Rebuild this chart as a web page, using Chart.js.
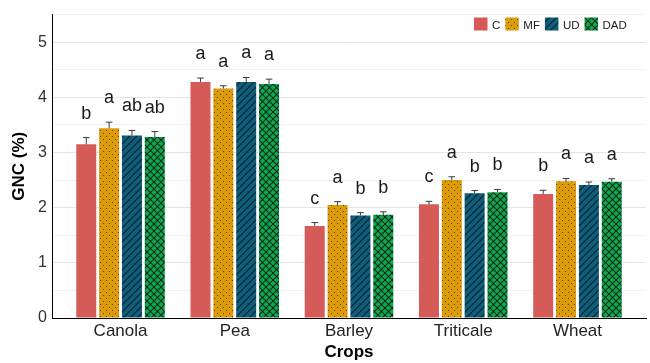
<!DOCTYPE html>
<html>
<head>
<meta charset="utf-8">
<script src="https://cdn.jsdelivr.net/npm/chart.js@4.4.0/dist/chart.umd.min.js"></script>
<style>
  html, body { margin: 0; padding: 0; background: #fff; }
  #wrap { width: 650px; height: 363px; }
</style>
</head>
<body>
<div id="wrap"><canvas id="gnc" width="650" height="363"></canvas></div>
<script>
/* ============================================================
   DATA
============================================================ */
const crops = ["Canola", "Pea", "Barley", "Triticale", "Wheat"];
const treatments = ["C", "MF", "UD", "DAD"];

const gncC   = [3.15, 4.28, 1.67, 2.06, 2.25];
const gncMF  = [3.44, 4.16, 2.05, 2.50, 2.48];
const gncUD  = [3.31, 4.28, 1.86, 2.26, 2.41];
const gncDAD = [3.28, 4.24, 1.87, 2.28, 2.47];

const seC   = [0.12, 0.07, 0.06, 0.055, 0.065];
const seMF  = [0.11, 0.05, 0.06, 0.06, 0.05];
const seUD  = [0.09, 0.08, 0.05, 0.05, 0.055];
const seDAD = [0.10, 0.09, 0.055, 0.05, 0.055];

const lettersC   = ["b", "a", "c", "c", "b"];
const lettersMF  = ["a", "a", "a", "a", "a"];
const lettersUD  = ["ab", "a", "b", "b", "a"];
const lettersDAD = ["ab", "a", "b", "b", "a"];

const yMin = 0, yMax = 5.5, yStep = 0.5;

/* ============================================================
   Patterns
============================================================ */
function makePattern(base, kind) {
    const s = kind === "dots" ? 6 : 7;
    const c = document.createElement("canvas");
    c.width = s; c.height = s;
    const g = c.getContext("2d");
    g.fillStyle = base;
    g.fillRect(0, 0, s, s);
    g.strokeStyle = "rgba(8,18,22,0.8)";
    g.fillStyle = "rgba(40,25,0,0.7)";
    g.lineWidth = 1.1;
    if (kind === "dots") {
        g.fillRect(1, 1, 1, 1);
        g.fillRect(4, 4, 1, 1);
    }
    if (kind === "slash" || kind === "cross") {
        g.beginPath();
        g.moveTo(0, s); g.lineTo(s, 0);
        g.moveTo(-1, 1); g.lineTo(1, -1);
        g.moveTo(s - 1, s + 1); g.lineTo(s + 1, s - 1);
        g.stroke();
    }
    if (kind === "cross") {
        g.beginPath();
        g.moveTo(0, 0); g.lineTo(s, s);
        g.moveTo(s - 1, -1); g.lineTo(s + 1, 1);
        g.moveTo(-1, s - 1); g.lineTo(1, s + 1);
        g.stroke();
    }
    return g.createPattern(c, "repeat");
}

const fills = [
    "#D55B59",
    makePattern("#DB9B0B", "dots"),
    makePattern("#0F5E7C", "slash"),
    makePattern("#10A84B", "cross")
];

const values = [gncC, gncMF, gncUD, gncDAD];
const errors = [seC, seMF, seUD, seDAD];
const letters = [lettersC, lettersMF, lettersUD, lettersDAD];

/* ============================================================
   Plugin: error bars, letters, legend
============================================================ */
const extras = {
    id: "extras",
    afterDatasetsDraw(chart) {
        const ctx = chart.ctx;
        const y = chart.scales.y;
        ctx.save();
        chart.data.datasets.forEach((ds, di) => {
            const meta = chart.getDatasetMeta(di);
            meta.data.forEach((bar, i) => {
                const top = values[di][i] + errors[di][i];
                const yTop = y.getPixelForValue(top);
                const yBar = y.getPixelForValue(values[di][i]);
                ctx.strokeStyle = "#3a3a3a";
                ctx.lineWidth = 1;
                ctx.beginPath();
                ctx.moveTo(bar.x, yBar);
                ctx.lineTo(bar.x, yTop);
                ctx.moveTo(bar.x - 3.3, yTop);
                ctx.lineTo(bar.x + 3.3, yTop);
                ctx.stroke();

                ctx.fillStyle = "#1a1a1a";
                ctx.font = "18px 'Liberation Sans', Arial, sans-serif";
                ctx.textAlign = "center";
                ctx.textBaseline = "alphabetic";
                ctx.fillText(letters[di][i], bar.x, yTop - 19);
            });
        });
        ctx.restore();
    },
    afterDraw(chart) {
        const ctx = chart.ctx;
        ctx.save();
        ctx.font = "11.5px 'Liberation Sans', Arial, sans-serif";
        ctx.textBaseline = "alphabetic";
        ctx.textAlign = "left";
        let x = 474;
        treatments.forEach((t, i) => {
            ctx.fillStyle = fills[i];
            ctx.fillRect(x, 17.5, 13.5, 13);
            ctx.fillStyle = "#1a1a1a";
            ctx.fillText(t, x + 18, 29);
            x += 18 + ctx.measureText(t).width + 5;
        });
        ctx.restore();
    }
};

/* ============================================================
   Chart
============================================================ */
Chart.defaults.font.family = "'Liberation Sans', Arial, sans-serif";

new Chart(document.getElementById("gnc"), {
    type: "bar",
    data: {
        datasets: treatments.map((t, di) => ({
            label: t,
            data: crops.map((c, i) => ({ x: i, y: values[di][i] })),
            backgroundColor: fills[di],
            borderWidth: 0,
            categoryPercentage: 0.8,
            barPercentage: 0.875
        }))
    },
    options: {
        responsive: false,
        animation: false,
        devicePixelRatio: 1,
        layout: { padding: { top: 9, right: 4, left: 0, bottom: 0 } },
        plugins: {
            legend: { display: false },
            tooltip: { enabled: false }
        },
        scales: {
            x: {
                type: "linear",
                min: -0.6,
                max: 4.6,
                offset: false,
                z: 1,
                afterBuildTicks: s => { s.ticks = crops.map((c, i) => ({ value: i })); },
                afterFit: s => { s.height = 45; },
                grid: { display: false, drawTicks: false, offset: false },
                border: { display: true, color: "#000", width: 1 },
                ticks: {
                    autoSkip: false,
                    maxRotation: 0,
                    padding: 3,
                    color: "#222",
                    font: { size: 17 },
                    callback: v => crops[v]
                },
                title: {
                    display: true,
                    text: "Crops",
                    color: "#000",
                    font: { size: 17, weight: "bold" },
                    padding: { top: 0, bottom: 0 }
                }
            },
            y: {
                min: yMin,
                max: yMax,
                afterFit: s => { s.width = 52; },
                grid: {
                    drawTicks: false,
                    color: c => Number.isInteger(c.tick.value) ? "#e4e4e4" : "#f2f2f2"
                },
                border: { display: true, color: "#000", width: 1 },
                ticks: {
                    stepSize: yStep,
                    autoSkip: false,
                    padding: 5,
                    color: "#333",
                    font: { size: 16 },
                    callback: v => Number.isInteger(v) ? v : ""
                },
                title: {
                    display: true,
                    text: "GNC (%)",
                    color: "#000",
                    font: { size: 17, weight: "bold" },
                    padding: { top: 9, bottom: 0 }
                }
            }
        }
    },
    plugins: [extras]
});
</script>
</body>
</html>
